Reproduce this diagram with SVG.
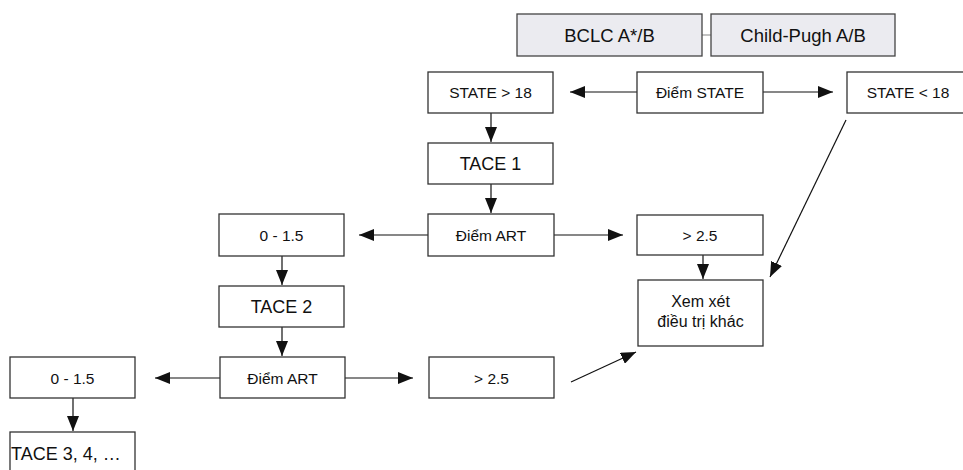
<svg xmlns="http://www.w3.org/2000/svg" width="963" height="470" viewBox="0 0 963 470">
<style>
.box{fill:#fff;stroke:#333;stroke-width:1.3}
.gbox{fill:#ebebf0;stroke:#444;stroke-width:1.3}
text{font-family:"Liberation Sans",Arial,sans-serif;fill:#111;text-anchor:middle}
.s{font-size:15.5px}
.m{font-size:18px}
.c{stroke:#111;stroke-width:1.2;fill:none;marker-end:url(#ah)}
</style>
<defs>
<marker id="ah" markerUnits="userSpaceOnUse" markerWidth="16" markerHeight="12" refX="15" refY="6" orient="auto">
<path d="M0,0 L15,6 L0,12 Z" fill="#111"/>
</marker>
</defs>
<rect width="963" height="470" fill="#fff"/>
<g id="connectors">
<line x1="702" y1="35" x2="711" y2="35" stroke="#999" stroke-width="1.2"/>
<line class="c" x1="637" y1="92" x2="570" y2="92"/>
<line class="c" x1="763" y1="92" x2="833" y2="92"/>
<line class="c" x1="491" y1="113" x2="491" y2="142"/>
<line class="c" x1="491" y1="184" x2="491" y2="213"/>
<line class="c" x1="428" y1="235" x2="359" y2="235"/>
<line class="c" x1="554" y1="235" x2="623" y2="235"/>
<line class="c" x1="282" y1="256" x2="282" y2="285"/>
<line class="c" x1="703" y1="255" x2="703" y2="279"/>
<line class="c" x1="846" y1="120" x2="770" y2="277"/>
<line class="c" x1="282" y1="327" x2="282" y2="356"/>
<line class="c" x1="220" y1="378" x2="155" y2="378"/>
<line class="c" x1="345" y1="378" x2="413" y2="378"/>
<line class="c" x1="571" y1="382" x2="636" y2="352"/>
<line class="c" x1="73" y1="398" x2="73" y2="431"/>
</g>
<g id="bclc"><rect class="gbox" x="517" y="14" width="185" height="42"/><text class="m" x="609.5" y="41.5" style="font-size:18.5px">BCLC A*/B</text></g>
<g id="childpugh"><rect class="gbox" x="711" y="14" width="184" height="42"/><text class="m" x="803" y="41.5" style="font-size:18.5px">Child-Pugh A/B</text></g>
<g id="state_gt"><rect class="box" x="428" y="72" width="125" height="41"/><text class="s" x="490.5" y="98">STATE &gt; 18</text></g>
<g id="diem_state"><rect class="box" x="637" y="72" width="126" height="41"/><text class="s" x="700" y="98">Điểm STATE</text></g>
<g id="state_lt"><rect class="box" x="847" y="72" width="125" height="41"/><text class="s" x="908" y="98">STATE &lt; 18</text></g>
<g id="tace1"><rect class="box" x="428" y="143" width="125" height="41"/><text class="m" x="490.5" y="170">TACE 1</text></g>
<g id="art1_low"><rect class="box" x="219" y="214" width="125" height="42"/><text class="s" x="281.5" y="241">0 - 1.5</text></g>
<g id="diem_art1"><rect class="box" x="428" y="214" width="126" height="42"/><text class="s" x="491" y="241">Điểm ART</text></g>
<g id="art1_high"><rect class="box" x="637" y="215" width="126" height="40"/><text class="s" x="700" y="241">&gt; 2.5</text></g>
<g id="xem_xet"><rect class="box" x="638" y="280" width="125" height="66"/><text class="s" x="700.5" y="307" style="font-size:16px">Xem xét</text><text class="s" x="700.5" y="327" style="font-size:16px">điều trị khác</text></g>
<g id="tace2"><rect class="box" x="219" y="286" width="125" height="41"/><text class="m" x="281.5" y="313">TACE 2</text></g>
<g id="art2_low"><rect class="box" x="10" y="357" width="125" height="41"/><text class="s" x="72.5" y="384">0 - 1.5</text></g>
<g id="diem_art2"><rect class="box" x="220" y="357" width="125" height="41"/><text class="s" x="282.5" y="384">Điểm ART</text></g>
<g id="art2_high"><rect class="box" x="429" y="357" width="125" height="41"/><text class="s" x="491.5" y="384">&gt; 2.5</text></g>
<g id="tace3"><rect class="box" x="10" y="432" width="125" height="50"/><text class="m" x="11" y="460" style="text-anchor:start">TACE 3, 4, …</text></g>
</svg>
